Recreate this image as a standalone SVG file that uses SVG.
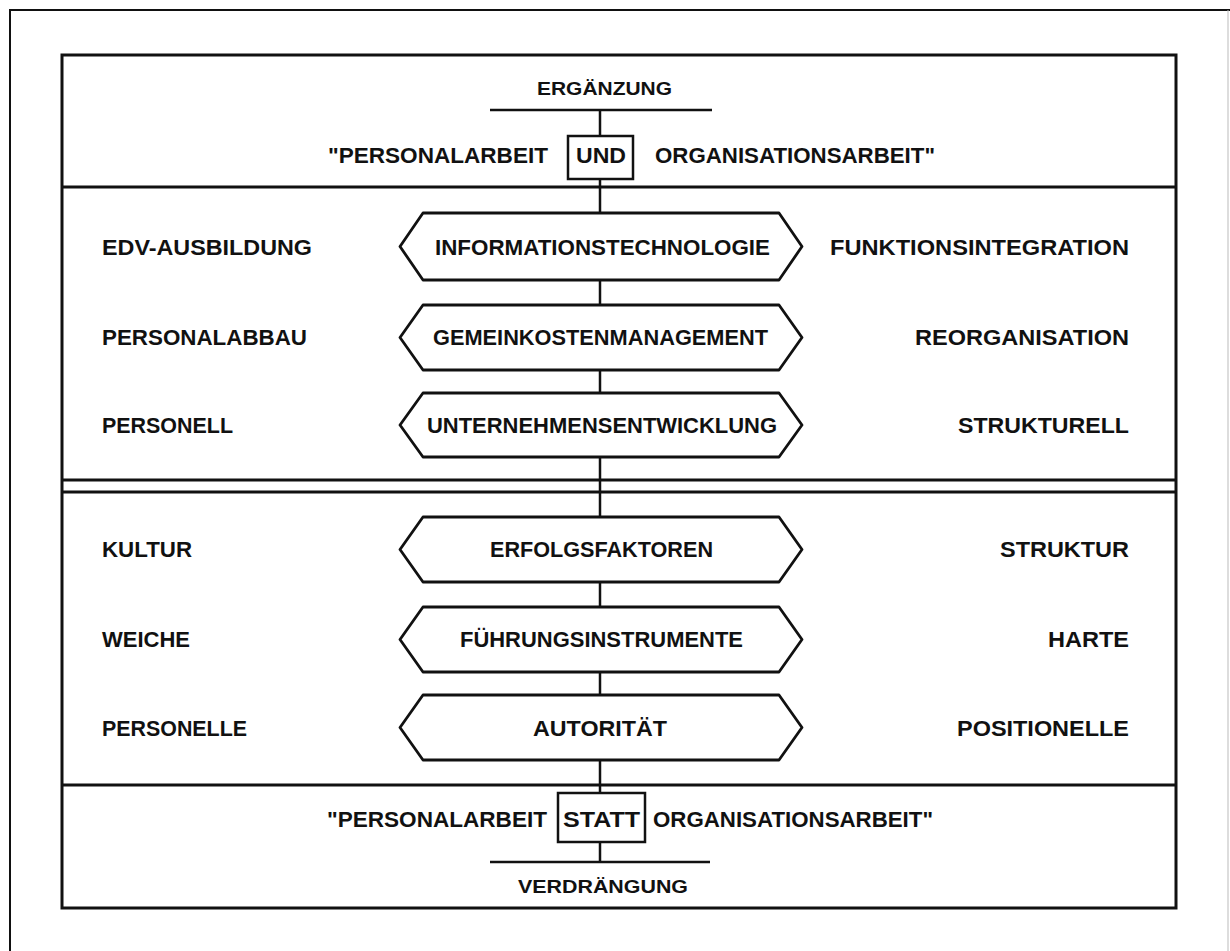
<svg xmlns="http://www.w3.org/2000/svg" width="1230" height="951" viewBox="0 0 1230 951">
<style>
  .t { font-family: "Liberation Sans", Arial, sans-serif; font-weight: bold; font-size: 22px; fill: #111; }
  .s { font-size: 19px; }
  .frame { fill: none; stroke: #111; stroke-width: 3; }
  .ln { fill: none; stroke: #111; stroke-width: 2.5; }
  .hex { fill: #fff; stroke: #111; stroke-width: 2.8; stroke-linejoin: round; }
  .box { fill: #fff; stroke: #111; stroke-width: 2.5; }
</style>
<rect width="1230" height="951" fill="#fff"/>
<!-- outer frame (cropped) -->
<g id="outer">
  <path d="M10,951 L10,10 L1230,10" fill="none" stroke="#111" stroke-width="2"/>
  <path d="M1228,10 L1228,951" fill="none" stroke="#bbb" stroke-width="1"/>
</g>
<!-- inner frame and section dividers -->
<g id="frame">
  <rect class="frame" x="62" y="55" width="1114" height="853"/>
  <line class="frame" x1="62" y1="187" x2="1176" y2="187"/>
  <line class="frame" x1="62" y1="480" x2="1176" y2="480"/>
  <line class="frame" x1="62" y1="492" x2="1176" y2="492"/>
  <line class="frame" x1="62" y1="785" x2="1176" y2="785"/>
</g>
<!-- connectors -->
<g id="connectors">
  <line class="ln" x1="490" y1="110" x2="712" y2="110"/>
  <line class="ln" x1="600" y1="110" x2="600" y2="136"/>
  <line class="ln" x1="600" y1="179" x2="600" y2="213"/>
  <line class="ln" x1="600" y1="280" x2="600" y2="305"/>
  <line class="ln" x1="600" y1="370" x2="600" y2="393"/>
  <line class="ln" x1="600" y1="457" x2="600" y2="517"/>
  <line class="ln" x1="600" y1="582" x2="600" y2="607"/>
  <line class="ln" x1="600" y1="672" x2="600" y2="695"/>
  <line class="ln" x1="600" y1="760" x2="600" y2="793"/>
  <line class="ln" x1="600" y1="842" x2="600" y2="862"/>
  <line class="ln" x1="490" y1="862" x2="710" y2="862"/>
</g>
<!-- top section -->
<g id="ergaenzung">
  <text class="t s" x="537" y="95" textLength="135" lengthAdjust="spacingAndGlyphs">ERGÄNZUNG</text>
</g>
<g id="und-row">
  <text class="t" x="328" y="163" textLength="220" lengthAdjust="spacingAndGlyphs">"PERSONALARBEIT</text>
  <rect class="box" x="568" y="136" width="65" height="43"/>
  <text class="t" x="576" y="163" textLength="50" lengthAdjust="spacingAndGlyphs">UND</text>
  <text class="t" x="655" y="163" textLength="280" lengthAdjust="spacingAndGlyphs">ORGANISATIONSARBEIT"</text>
</g>
<!-- hexagons -->
<g id="hex-informationstechnologie">
  <polygon class="hex" points="400,246.5 423,213 779,213 802,246.5 779,280 423,280"/>
  <text class="t" x="435" y="255" textLength="335" lengthAdjust="spacingAndGlyphs">INFORMATIONSTECHNOLOGIE</text>
</g>
<g id="hex-gemeinkostenmanagement">
  <polygon class="hex" points="400,337.5 423,305 779,305 802,337.5 779,370 423,370"/>
  <text class="t" x="433" y="345" textLength="335" lengthAdjust="spacingAndGlyphs">GEMEINKOSTENMANAGEMENT</text>
</g>
<g id="hex-unternehmensentwicklung">
  <polygon class="hex" points="400,425 423,393 779,393 802,425 779,457 423,457"/>
  <text class="t" x="427" y="433" textLength="350" lengthAdjust="spacingAndGlyphs">UNTERNEHMENSENTWICKLUNG</text>
</g>
<g id="hex-erfolgsfaktoren">
  <polygon class="hex" points="400,549.5 423,517 779,517 802,549.5 779,582 423,582"/>
  <text class="t" x="490" y="557" textLength="223" lengthAdjust="spacingAndGlyphs">ERFOLGSFAKTOREN</text>
</g>
<g id="hex-fuehrungsinstrumente">
  <polygon class="hex" points="400,639.5 423,607 779,607 802,639.5 779,672 423,672"/>
  <text class="t" x="460" y="647" textLength="283" lengthAdjust="spacingAndGlyphs">FÜHRUNGSINSTRUMENTE</text>
</g>
<g id="hex-autoritaet">
  <polygon class="hex" points="400,727.5 423,695 779,695 802,727.5 779,760 423,760"/>
  <text class="t" x="533" y="736" textLength="134" lengthAdjust="spacingAndGlyphs">AUTORITÄT</text>
</g>
<!-- left labels -->
<g id="left-labels">
  <text class="t" x="102" y="255" textLength="210" lengthAdjust="spacingAndGlyphs">EDV-AUSBILDUNG</text>
  <text class="t" x="102" y="345" textLength="205" lengthAdjust="spacingAndGlyphs">PERSONALABBAU</text>
  <text class="t" x="102" y="433" textLength="131" lengthAdjust="spacingAndGlyphs">PERSONELL</text>
  <text class="t" x="102" y="557" textLength="90" lengthAdjust="spacingAndGlyphs">KULTUR</text>
  <text class="t" x="102" y="647" textLength="88" lengthAdjust="spacingAndGlyphs">WEICHE</text>
  <text class="t" x="102" y="736" textLength="145" lengthAdjust="spacingAndGlyphs">PERSONELLE</text>
</g>
<!-- right labels -->
<g id="right-labels">
  <text class="t" x="830" y="255" textLength="299" lengthAdjust="spacingAndGlyphs">FUNKTIONSINTEGRATION</text>
  <text class="t" x="915" y="345" textLength="214" lengthAdjust="spacingAndGlyphs">REORGANISATION</text>
  <text class="t" x="958" y="433" textLength="171" lengthAdjust="spacingAndGlyphs">STRUKTURELL</text>
  <text class="t" x="1000" y="557" textLength="129" lengthAdjust="spacingAndGlyphs">STRUKTUR</text>
  <text class="t" x="1048" y="647" textLength="81" lengthAdjust="spacingAndGlyphs">HARTE</text>
  <text class="t" x="957" y="736" textLength="172" lengthAdjust="spacingAndGlyphs">POSITIONELLE</text>
</g>
<!-- bottom section -->
<g id="statt-row">
  <text class="t" x="327" y="827" textLength="220" lengthAdjust="spacingAndGlyphs">"PERSONALARBEIT</text>
  <rect class="box" x="558" y="793" width="87" height="49"/>
  <text class="t" x="563" y="827" textLength="77" lengthAdjust="spacingAndGlyphs">STATT</text>
  <text class="t" x="653" y="827" textLength="280" lengthAdjust="spacingAndGlyphs">ORGANISATIONSARBEIT"</text>
</g>
<g id="verdraengung">
  <text class="t s" x="518" y="893" textLength="170" lengthAdjust="spacingAndGlyphs">VERDRÄNGUNG</text>
</g>
</svg>
